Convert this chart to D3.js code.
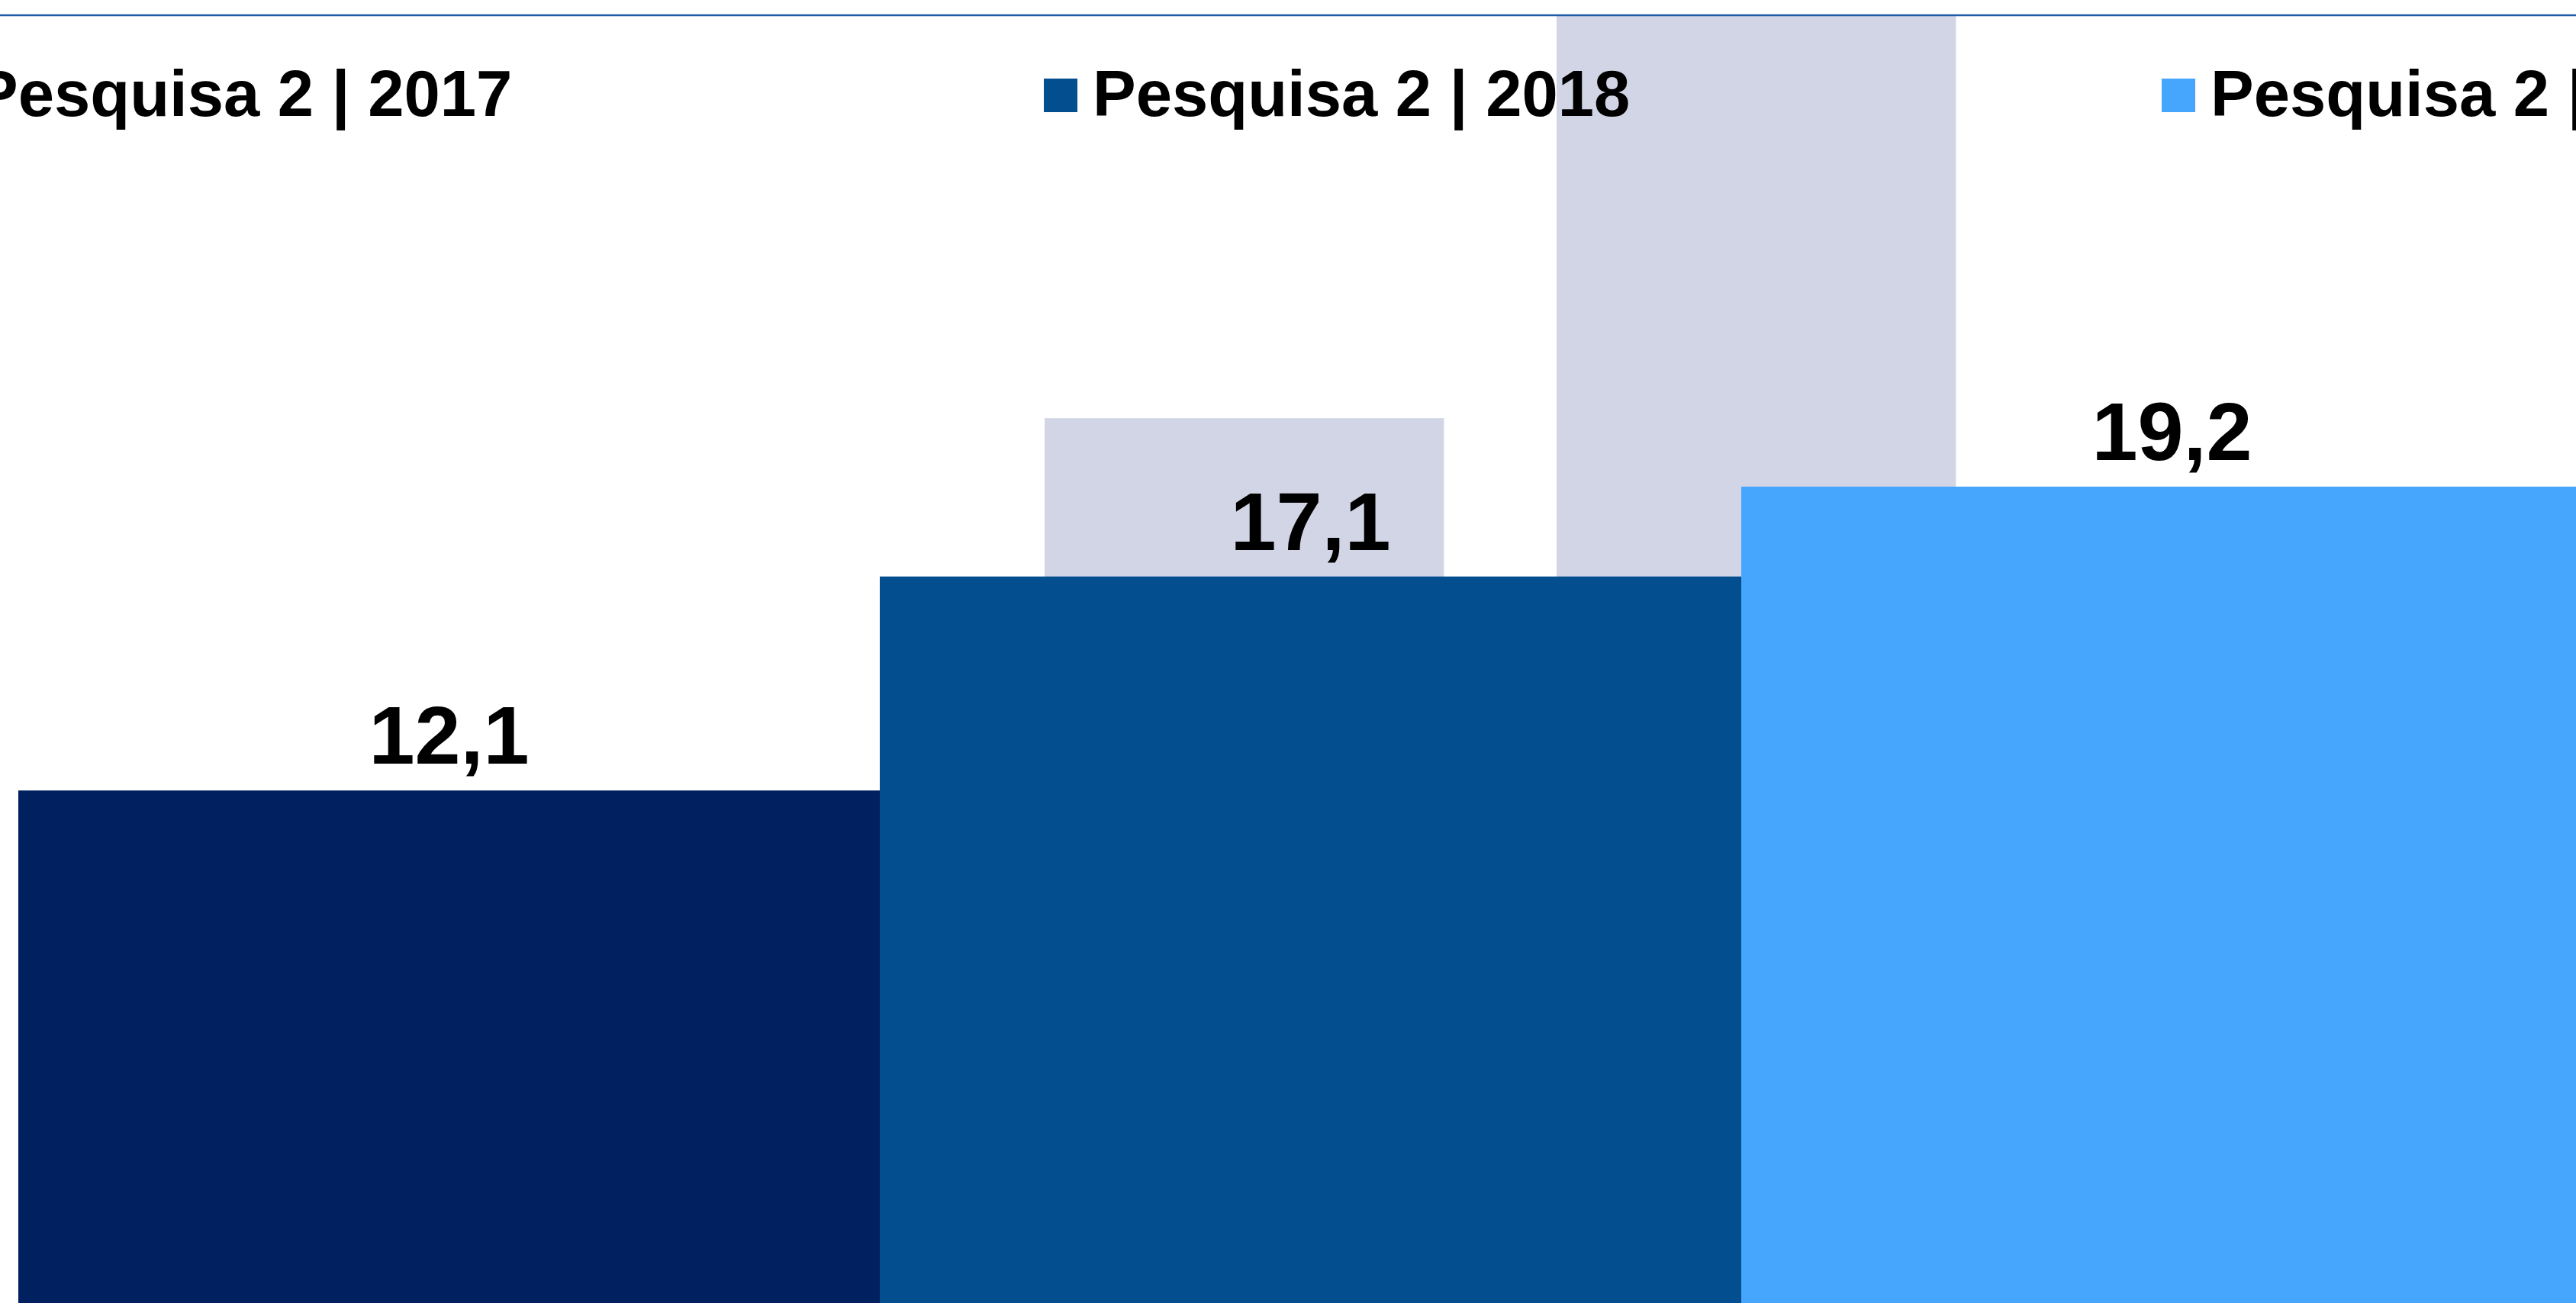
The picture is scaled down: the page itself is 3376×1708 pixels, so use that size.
<!DOCTYPE html>
<html>
<head>
<meta charset="utf-8">
<script src="https://cdn.jsdelivr.net/npm/d3@7"></script>
<style>
  html, body { margin: 0; padding: 0; background: #ffffff; overflow: hidden; }
  svg { display: block; }
  text { font-family: "Liberation Sans", Arial, sans-serif; font-weight: bold; fill: #000; }
</style>
</head>
<body>
<svg id="chart" width="3376" height="1708"></svg>
<script>
// ---- data ----
const categories = ["2017", "2018", "2019"];
const seriesNames = ["Pesquisa 2 | 2017", "Pesquisa 2 | 2018", "Pesquisa 2 | 2019"];
const values = [12.1, 17.1, 19.2];
const valueLabels = ["12,1", "17,1", "19,2"];
const barColors = ["#00205F", "#034E8F", "#46A5FC"];
// background (grey) series, only the visible slots are known
const backgroundSlots = ["s1", "s2", "s3", "s4", "s5"];
const backgroundKeys = ["s3", "s4"];
const backgroundValues = [20.8, 31];

// ---- layout ----
const W = 3376, H = 1708;
const baseY = 1715;          // value 0 (just below the visible frame)
const pxPerUnit = 56.1;
const topLineY = 20;

const svg = d3.select("#chart");

const y = d3.scaleLinear().domain([0, 30]).range([baseY, baseY - 30 * pxPerUnit]);

const x = d3.scaleBand().domain(categories).range([24, 24 + 3 * 1129]).padding(0);

const xb = d3.scaleBand().domain(backgroundSlots)
  .range([27, 27 + 671 * 4.78]).paddingInner(0.22).paddingOuter(0);

// clip region below the top rule
svg.append("defs").append("clipPath").attr("id", "plotClip")
  .append("rect").attr("x", 0).attr("y", topLineY + 1).attr("width", W).attr("height", H);

const plot = svg.append("g").attr("clip-path", "url(#plotClip)");

// grey background bars
plot.selectAll("rect.bg")
  .data(backgroundKeys.map((k, i) => ({ k, v: backgroundValues[i] })))
  .join("rect")
  .attr("class", "bg")
  .attr("x", d => xb(d.k))
  .attr("width", xb.bandwidth())
  .attr("y", d => y(d.v))
  .attr("height", d => y(0) - y(d.v))
  .attr("fill", "#D2D5E5");

// main bars
const bars = categories.map((c, i) => ({ c, v: values[i], label: valueLabels[i], color: barColors[i] }));

plot.selectAll("rect.bar")
  .data(bars)
  .join("rect")
  .attr("class", "bar")
  .attr("x", d => x(d.c))
  .attr("width", x.bandwidth())
  .attr("y", d => y(d.v))
  .attr("height", d => y(0) - y(d.v))
  .attr("fill", d => d.color);

// value labels
plot.selectAll("text.val")
  .data(bars)
  .join("text")
  .attr("class", "val")
  .attr("x", d => x(d.c) + x.bandwidth() / 2)
  .attr("y", d => y(d.v) - 35)
  .attr("text-anchor", "middle")
  .attr("font-size", 108)
  .text(d => d.label);

// top rule
svg.append("line")
  .attr("x1", 0).attr("x2", W)
  .attr("y1", topLineY).attr("y2", topLineY)
  .attr("stroke", "#1F5BA8").attr("stroke-width", 2.5);

// legend
const legendStep = 1465, legendX0 = -97;
const leg = svg.append("g").selectAll("g")
  .data(seriesNames.map((n, i) => ({ n, color: barColors[i], i })))
  .join("g")
  .attr("transform", d => `translate(${legendX0 + d.i * legendStep},0)`);

leg.append("rect")
  .attr("x", 0).attr("y", 103).attr("width", 44).attr("height", 44)
  .attr("fill", d => d.color);

leg.append("text")
  .attr("x", 64).attr("y", 152)
  .attr("font-size", 85)
  .text(d => d.n);
</script>
</body>
</html>
